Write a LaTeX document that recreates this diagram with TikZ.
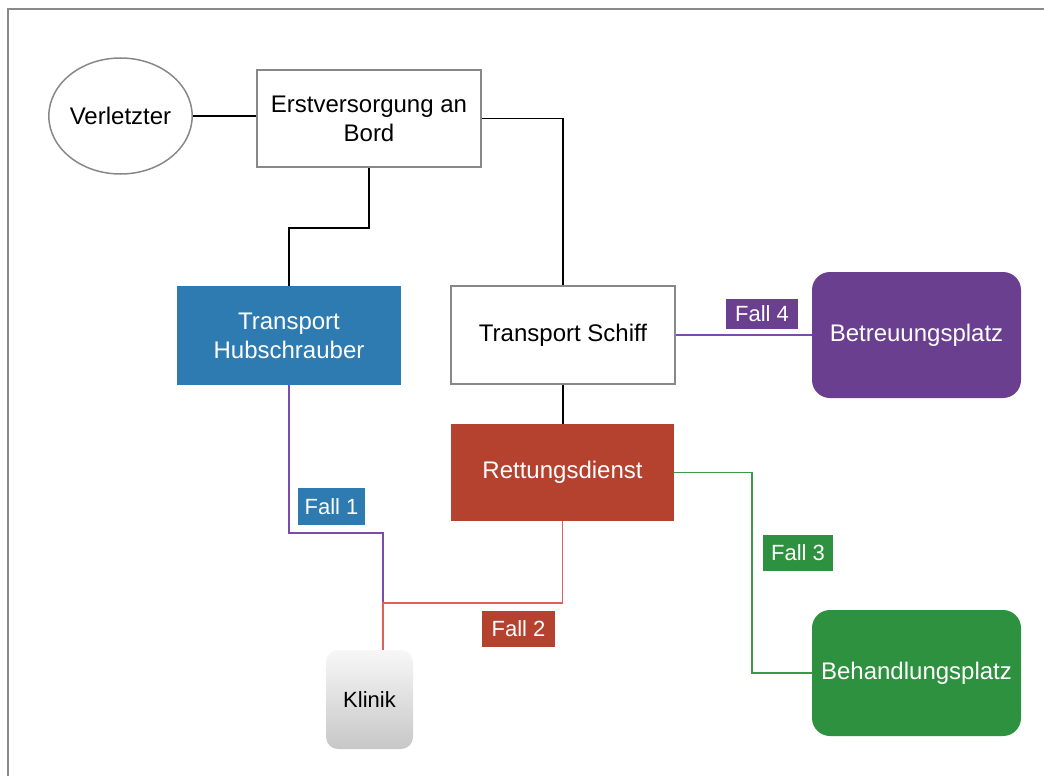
\documentclass[tikz,border=0pt]{standalone}
\usepackage{fontspec}
\setmainfont{Liberation Sans}
\usetikzlibrary{shapes.geometric,calc}
\definecolor{cblue}{HTML}{2D7BB1}
\definecolor{cred}{HTML}{B5412F}
\definecolor{cpurple}{HTML}{6A3F8F}
\definecolor{cgreen}{HTML}{2E9140}
\definecolor{lpurple}{HTML}{7B4CB0}
\definecolor{lred}{HTML}{E0605A}
\definecolor{lgreen}{HTML}{3A9A4A}
\definecolor{cframe}{HTML}{8A8A8A}
\definecolor{cbord}{HTML}{888888}
\begin{document}
\begin{tikzpicture}[x=1pt,y=-1pt,
  every node/.style={font=\fontsize{24}{29}\selectfont, align=center, inner sep=0pt},
  plainbox/.style={draw=cbord, line width=1.5pt, fill=white, rectangle},
  colbox/.style={fill=#1, text=white, rectangle},
  roundbox/.style={fill=#1, text=white, rectangle, rounded corners=18pt, minimum width=209pt, minimum height=126pt},
  falllabel/.style={fill=#1, text=white, rectangle, font=\fontsize{22}{25}\selectfont},
  conn/.style={line width=1.5pt, black},
]
\useasboundingbox (0,0) rectangle (1044,776);
\draw[cframe, line width=2pt] (8,776) -- (8,9) -- (1044,9);

\node[ellipse, draw=cbord, line width=1.5pt, minimum width=139pt, minimum height=116pt] (verl) at (120.5,116) {Verletzter};
\node[plainbox, minimum width=224pt, minimum height=97pt] (erst) at (369,118.5) {Erstversorgung an\\Bord};
\node[colbox=cblue, minimum width=224pt, minimum height=99pt] (hub) at (289,335.5) {Transport\\Hubschrauber};
\node[plainbox, minimum width=224pt, minimum height=98pt] (schiff) at (563,335) {Transport Schiff};
\node[colbox=cred, minimum width=223pt, minimum height=97pt] (rett) at (562.5,472.5) {Rettungsdienst};
\node[roundbox=cpurple] (betr) at (916.5,335) {Betreuungsplatz};
\node[roundbox=cgreen] (beh) at (916.5,673) {Behandlungsplatz};
\node[rectangle, rounded corners=12pt, top color=black!3, bottom color=black!22, minimum width=87pt, minimum height=99pt, font=\fontsize{22}{26}\selectfont] (klinik) at (369.5,699.5) {Klinik};

\node[falllabel=cblue, minimum width=67pt, minimum height=37pt] (fall1) at (331.5,506.5) {Fall 1};
\node[falllabel=cred, minimum width=73pt, minimum height=36pt] (fall2) at (518.5,629) {Fall 2};
\node[falllabel=cgreen, minimum width=70pt, minimum height=36pt] (fall3) at (798,553) {Fall 3};
\node[falllabel=cpurple, minimum width=72pt, minimum height=30pt] (fall4) at (762,314) {Fall 4};

\coordinate (j) at (383,603);
\coordinate (g) at (752,673);

\draw[conn] (verl.east) -- (verl.east -| erst.west);
\draw[conn] (erst.east) -| (schiff.north);
\draw[conn] (erst.south) -- ++(0,60) -| (hub.north);
\draw[conn] (schiff.south) -- (schiff.south |- rett.north);
\draw[lpurple, line width=1.5pt] (schiff.east) -- (betr.west);
\draw[lpurple, line width=1.5pt] (hub.south) -- (hub.south |- 0,533) -| (j);
\draw[lred, line width=1.5pt] (rett.south) |- (j) -- (j |- klinik.north);
\draw[lgreen, line width=1.5pt] (rett.east) -| (g) -- (beh.west);
\end{tikzpicture}
\end{document}
